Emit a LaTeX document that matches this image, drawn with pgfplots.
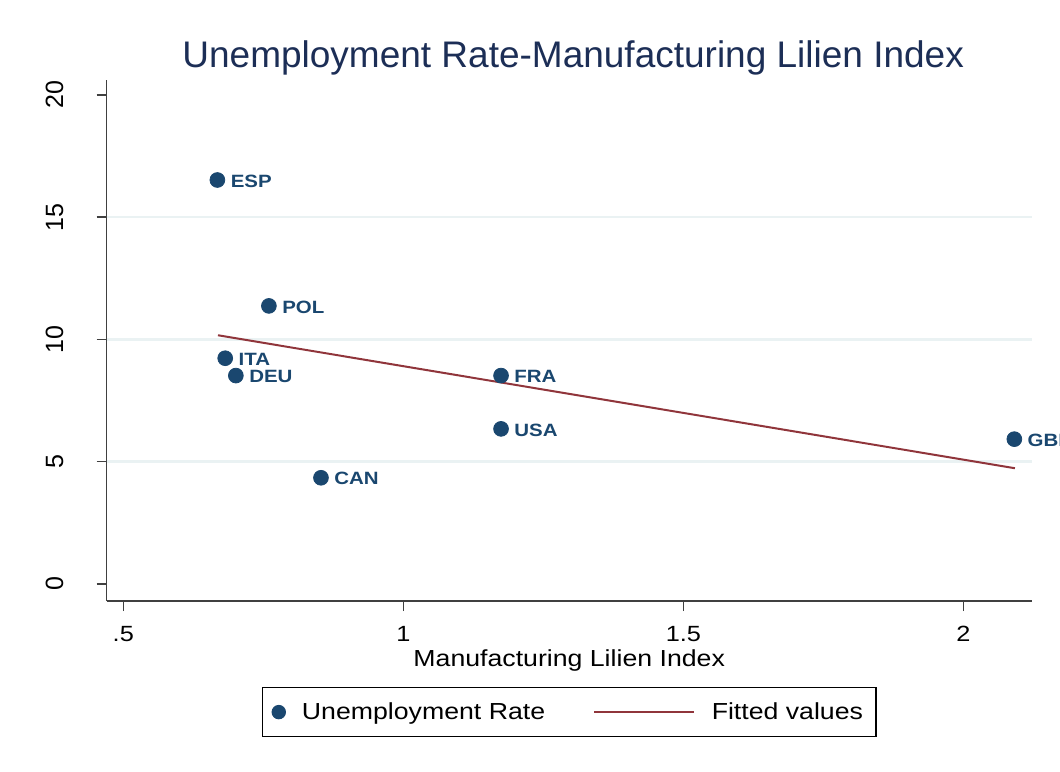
\documentclass[border=0pt]{standalone}
\usepackage{fontspec}
\setmainfont{Liberation Sans}[FakeStretch=1.15]
\newfontfamily\plainfont{Liberation Sans}
\usepackage{pgfplots}
\pgfplotsset{compat=1.18}
\definecolor{stnavy}{RGB}{26,71,111}
\definecolor{stmaroon}{RGB}{144,53,59}
\definecolor{sttitle}{RGB}{28,46,86}
\definecolor{gridc}{RGB}{234,242,243}
\begin{document}
\begin{tikzpicture}
\begin{axis}[
  scale only axis, width=462.5pt, height=260.75pt,
  xmin=0.4704, xmax=2.122, ymin=-0.70, ymax=20.63,
  clip=false,
  axis x line*=bottom, axis y line*=left,
  axis line style={black!75, line width=0.65pt},
  tick style={black!75, line width=0.65pt},
  tick align=outside, major tick length=5pt,
  xtick={0.5,1,1.5,2}, xticklabels={.5,1,1.5,2},
  ytick={0,5,10,15,20}, yticklabels={0,5,10,15,20},
  extra y ticks={5,10,15}, extra y tick labels={},
  extra y tick style={grid=major, major tick length=0pt},
  grid style={color=gridc, line width=1.3pt},
  /pgf/number format/assume math mode=true,
  xticklabel style={inner sep=0pt, anchor=north, font=\fontsize{11}{13}\selectfont},
  xticklabel shift=7.5pt,
  yticklabel style={rotate=90, anchor=south, inner sep=0pt, font=\plainfont\fontsize{12.5}{15}\selectfont},
  yticklabel shift=16.5pt,
  xlabel={Manufacturing Lilien Index},
  xlabel style={at={(axis description cs:0.5,0)}, anchor=base, yshift=-32.5pt, font=\fontsize{11.6}{14}\selectfont},
  title={Unemployment Rate-Manufacturing Lilien Index},
  title style={at={(axis description cs:0.5,1)}, anchor=base, yshift=0.2pt, xshift=2pt, text=sttitle, font=\plainfont\fontsize{18.5}{22}\selectfont},
  legend columns=2,
  legend cell align=left,
  legend style={at={(0.5,0)}, anchor=north, yshift=-43pt, draw=black, line width=0.6pt,
    inner xsep=4.9pt, inner ysep=7.3pt, font=\fontsize{11.6}{13.9}\selectfont,
    nodes={inner sep=0pt},
    /tikz/every odd column/.append style={column sep=8.3pt}},
]
\addplot[only marks, mark=*, mark size=3.7pt, color=stnavy,
  mark options={fill=stnavy, draw=stnavy},
  nodes near coords, point meta=explicit symbolic,
  nodes near coords style={anchor=west, inner sep=0pt, xshift=6.5pt, yshift=-0.5pt,
    font=\bfseries\fontsize{8.9}{10.7}\selectfont, text=stnavy},
  legend image code/.code={\draw[mark=*, mark size=3.3pt, mark options={fill=stnavy, draw=stnavy}] plot coordinates {(0pt,0pt)};}]
  table[meta=label] {
x y label
0.668 16.52 ESP
0.760 11.37 POL
0.682 9.23 ITA
0.701 8.52 DEU
1.1745 8.52 FRA
1.1745 6.34 USA
0.853 4.34 CAN
2.091 5.92 GBR
};
\addlegendentry{Unemployment Rate\rule{24pt}{0pt}}
\addplot[stmaroon, line width=1pt,
  legend image code/.code={\draw[stmaroon, line width=1pt] (0pt,0pt) -- (50pt,0pt);}]
  coordinates {(0.669,10.17) (2.092,4.73)};
\addlegendentry{Fitted values\rule{1.6pt}{0pt}}
\end{axis}
\pgfresetboundingbox
\path (-53.35pt,-85pt) rectangle (476.65pt,300.5pt);
\end{tikzpicture}
\end{document}
